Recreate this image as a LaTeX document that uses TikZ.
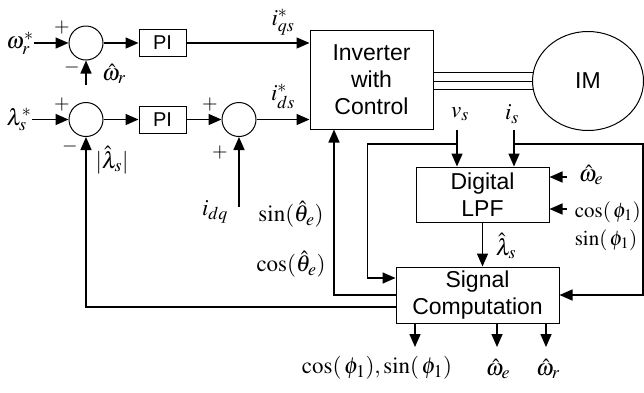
\documentclass[tikz,border=0pt]{standalone}
\usepackage{mathptmx}
\usepackage{fontspec}
\setmainfont{Liberation Serif}
\setsansfont{Liberation Sans}
\DeclareMathSizes{23}{23}{18}{14}
\DeclareMathSizes{21}{21}{16}{12}
\usetikzlibrary{arrows.meta,shapes.geometric}
\begin{document}
\begin{tikzpicture}[x=1pt,y=-1pt,line width=1.5pt,
    blk/.style={draw,line width=1pt,font=\sffamily\fontsize{23}{27}\selectfont,align=center,inner sep=0pt},
    piblk/.style={blk,minimum width=47pt,minimum height=27pt,font=\sffamily\fontsize{20}{24}\selectfont},
    sum/.style={draw,line width=1pt,circle,minimum size=34pt,inner sep=0pt},
    lbl/.style={font=\fontsize{23}{28}\selectfont,inner sep=0pt},
    sgn/.style={font=\fontsize{20}{22}\selectfont,inner sep=0pt},
    arr/.style={-{Triangle[length=13pt,width=11pt]}}]
\useasboundingbox (0,0) rectangle (644,392);
\node[sum] (sumA) at (86,43) {};
\node[piblk] (piA) at (162.5,43) {PI};
\node[sum] (sumB) at (86,119.5) {};
\node[piblk] (piB) at (162.5,119.5) {PI};
\node[sum] (sumC) at (239,119.5) {};
\node[blk,minimum width=123pt,minimum height=99pt] (inv) at (371.5,79.5) {Inverter\\with\\Control};
\node[blk,ellipse,minimum width=111pt,minimum height=99pt] (im) at (588,81) {IM};
\node[blk,minimum width=133pt,minimum height=55pt] (lpf) at (482.5,194.5) {Digital\\LPF};
\node[blk,minimum width=163pt,minimum height=56pt] (sig) at (477.5,295) {Signal\\Computation};

\node[lbl] (wr) at (20,43) {$\omega_r^*$};
\node[lbl] (ls) at (19,119.5) {$\lambda_s^*$};
\node[lbl] (wrh) at (114,74) {$\hat{\omega}_r$};
\node[lbl] (lsh) at (112,160) {$|\hat{\lambda}_s|$};
\node[lbl] (idq) at (215,212) {$i_{dq}$};
\node[lbl] (iqs) at (283,22) {$i_{qs}^*$};
\node[lbl] (ids) at (283,96) {$i_{ds}^*$};
\node[lbl] (sth) at (291,214) {$\sin(\hat{\theta}_e)$};
\node[lbl] (cth) at (291,264) {$\cos(\hat{\theta}_e)$};
\node[lbl] (vs) at (460,114) {$v_s$};
\node[lbl] (is) at (512,114) {$i_s$};
\node[lbl] (weh) at (591,175) {$\hat{\omega}_e$};
\node[lbl,align=left,anchor=west,font=\fontsize{21}{28}\selectfont] (phi) at (574,226) {$\cos(\,\phi_1)$\\$\sin(\,\phi_1)$};
\node[lbl] (lsl) at (506,246) {$\hat{\lambda}_s$};
\node[lbl] (ophi) at (377,368) {$\cos(\,\phi_1), \sin(\,\phi_1)$};
\node[lbl] (owe) at (498,369) {$\hat{\omega}_e$};
\node[lbl] (owr) at (548,369) {$\hat{\omega}_r$};

\node[sgn] (pA) at (62,27) {$+$};
\node[sgn] (mA) at (72,67) {$-$};
\node[sgn] (pB) at (62,104) {$+$};
\node[sgn] (mB) at (70,146) {$-$};
\node[sgn] (pC) at (210,104) {$+$};
\node[sgn] (qC) at (220,152) {$+$};

\coordinate (wrin) at (86,85);
\coordinate (dqin) at (239,207);
\coordinate (vstop) at (457,130);
\coordinate (vsbr) at (457,144);
\coordinate (istop) at (514,130);
\coordinate (isbr) at (514,144);
\coordinate (iscor) at (643,144);
\coordinate (wein) at (567,177);
\coordinate (phin) at (567,209);
\coordinate (oA) at (415,347);
\coordinate (oB) at (497,347);
\coordinate (oC) at (546,347);

\draw[arr] (wr.east) -- (sumA.west);
\draw[arr] (wrin) -- (sumA.south);
\draw[arr] (sumA.east) -- (sumA.east -| piA.west);
\draw[arr] (piA.east) -- (piA.east -| inv.west);
\draw[arr] (ls.east) -- (sumB.west);
\draw[arr] (sumB.east) -- (piB.west);
\draw[arr] (piB.east) -- (sumC.west);
\draw[arr] (sumC.east) -- (sumC.east -| inv.west);
\draw[arr] (dqin) -- (sumC.south);
\draw[arr] ([yshift=-12pt]sig.west) -| (sumB.south);
\draw[arr] (sig.west) -| ([xshift=-37.5pt]inv.south);
\draw[arr] (vstop) -- (vstop |- lpf.north);
\draw[arr] (vsbr) -| ([xshift=-28pt,yshift=17pt]sig.west) -- ([yshift=17pt]sig.west);
\draw[arr] (istop) -- (istop |- lpf.north);
\draw[arr] (isbr) -- (iscor) |- (sig.east);
\draw[arr] (wein) -- (wein -| lpf.east);
\draw[arr] (phin) -- (phin -| lpf.east);
\draw[arr] (lpf.south) -- (lpf.south |- sig.north);
\draw[arr] (sig.south -| oA) -- (oA);
\draw[arr] (sig.south -| oB) -- (oB);
\draw[arr] (sig.south -| oC) -- (oC);
\draw[line width=1pt] (inv.east |- im.171) -- (im.171);
\draw[line width=1pt] (inv.east |- im.west) -- (im.west);
\draw[line width=1pt] (inv.east |- im.189) -- (im.189);
\end{tikzpicture}
\end{document}
